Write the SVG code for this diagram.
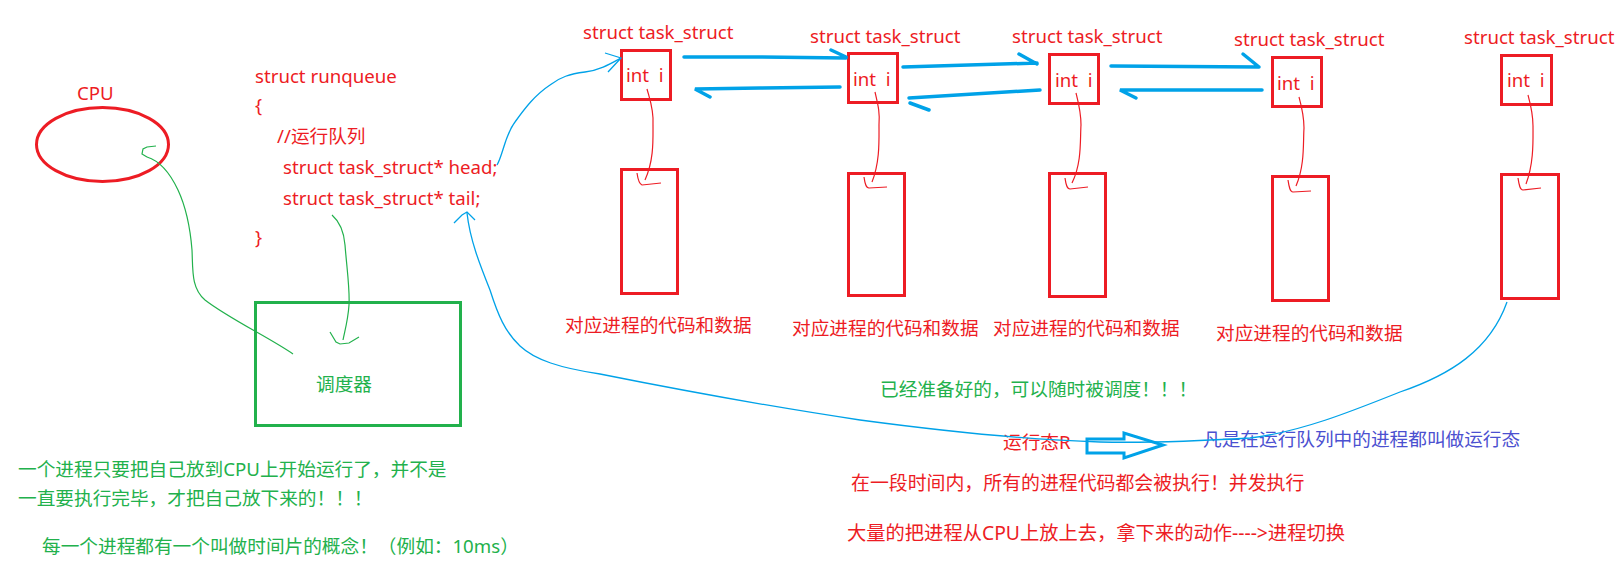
<svg xmlns="http://www.w3.org/2000/svg" width="1623" height="575" viewBox="0 0 1623 575">
  <style>
    text { font-family: "Noto Sans", "Noto Sans CJK SC", sans-serif; font-size: 18.67px; white-space: pre; }
    .red { fill: #ed1c24; }
    .green { fill: #22b14c; }
    .indigo { fill: #4b50d0; }
    .box { fill: none; stroke: #ed1c24; stroke-width: 3; }
    .gbox { fill: none; stroke: #22b14c; stroke-width: 3; }
    .thin-red { fill: none; stroke: #ed1c24; stroke-width: 1.2; }
    .thin-green { fill: none; stroke: #22b14c; stroke-width: 1.2; }
    .thin-blue { fill: none; stroke: #00a2e8; stroke-width: 1.3; }
    .thick-blue { fill: none; stroke: #00a2e8; stroke-width: 3.5; stroke-linecap: round; }
  </style>

  <!-- CPU -->
  <g id="cpu">
    <ellipse cx="102.5" cy="144.5" rx="66" ry="37" fill="none" stroke="#ed1c24" stroke-width="3"/>
    <text class="red" x="77" y="100">CPU</text>
  </g>

  <!-- run queue declaration -->
  <g id="runqueue">
    <text class="red" x="255" y="83">struct runqueue</text>
    <text class="red" x="255" y="112">{</text>
    <text class="red" x="277" y="143">//运行队列</text>
    <text class="red" x="283" y="174">struct task_struct* head;</text>
    <text class="red" x="283" y="205">struct task_struct* tail;</text>
    <text class="red" x="255" y="244">}</text>
  </g>

  <!-- scheduler -->
  <g id="scheduler">
    <rect class="gbox" x="255.5" y="302.5" width="205" height="123"/>
    <text class="green" x="316" y="391">调度器</text>
  </g>

  <!-- task_struct nodes -->
  <g id="task1">
    <text class="red" x="583" y="39">struct task_struct</text>
    <rect class="box" x="621.5" y="50.5" width="49" height="49"/>
    <text class="red" x="626" y="82" xml:space="preserve">int  i</text>
    <rect class="box" x="621.5" y="169.5" width="56" height="124"/>
    <text class="red" x="565" y="332">对应进程的代码和数据</text>
  </g>
  <g id="task2">
    <text class="red" x="810" y="43">struct task_struct</text>
    <rect class="box" x="848.5" y="53.5" width="49" height="49"/>
    <text class="red" x="853" y="86" xml:space="preserve">int  i</text>
    <rect class="box" x="848.5" y="173.5" width="56" height="122"/>
    <text class="red" x="792" y="335">对应进程的代码和数据</text>
  </g>
  <g id="task3">
    <text class="red" x="1012" y="43">struct task_struct</text>
    <rect class="box" x="1049.5" y="54.5" width="49" height="49"/>
    <text class="red" x="1055" y="87" xml:space="preserve">int  i</text>
    <rect class="box" x="1049.5" y="173.5" width="56" height="123"/>
    <text class="red" x="993" y="335">对应进程的代码和数据</text>
  </g>
  <g id="task4">
    <text class="red" x="1234" y="46">struct task_struct</text>
    <rect class="box" x="1272.5" y="57.5" width="49" height="49"/>
    <text class="red" x="1277" y="90" xml:space="preserve">int  i</text>
    <rect class="box" x="1272.5" y="176.5" width="56" height="124"/>
    <text class="red" x="1216" y="340">对应进程的代码和数据</text>
  </g>
  <g id="task5">
    <text class="red" x="1464" y="44">struct task_struct</text>
    <rect class="box" x="1501.5" y="55.5" width="50" height="49"/>
    <text class="red" x="1507" y="87" xml:space="preserve">int  i</text>
    <rect class="box" x="1501.5" y="174.5" width="57" height="124"/>
  </g>

  <!-- notes -->
  <g id="note-ready">
    <text class="green" x="880" y="396">已经准备好的，可以随时被调度！！！</text>
  </g>
  <g id="note-running">
    <text class="red" x="1003" y="449">运行态R</text>
    <polygon points="1087,439 1124,439 1124,433 1163,445 1124,458 1124,453 1087,453" fill="none" stroke="#00a2e8" stroke-width="3" stroke-linejoin="miter"/>
    <text class="indigo" x="1203" y="446">凡是在运行队列中的进程都叫做运行态</text>
  </g>
  <g id="note-concurrent">
    <text class="red" x="851" y="490" style="font-size:18.9px">在一段时间内，所有的进程代码都会被执行！并发执行</text>
    <text class="red" x="847" y="540" style="font-size:19.3px">大量的把进程从CPU上放上去，拿下来的动作----&gt;进程切换</text>
  </g>
  <g id="note-timeslice">
    <text class="green" x="18" y="476">一个进程只要把自己放到CPU上开始运行了，并不是</text>
    <text class="green" x="18" y="505">一直要执行完毕，才把自己放下来的！！！</text>
    <text class="green" x="42" y="553">每一个进程都有一个叫做时间片的概念！（例如：10ms）</text>
  </g>

  <!-- connectors -->
  <g id="connectors">
    <!-- scheduler to CPU -->
    <path class="thin-green" d="M293,354 C270,338 228,318 205,300 C191,288 193,270 192,250 C190,225 185,205 178,190 C170,173 160,161 147,157"/>
    <path class="thin-green" d="M147,157 L142,154 L143,149 L147,147 L156,146"/>
    <!-- runqueue to scheduler -->
    <path class="thin-green" d="M332,215 C340,222 344,232 345,245 C347,270 350,290 349,305 C348,320 345,330 343,340"/>
    <path class="thin-green" d="M330,332 L336,342 L340,344 L349,343 L359,337"/>

    <!-- head pointer -->
    <path class="thin-blue" d="M497,165 C503,155 505,135 515,122 C525,108 535,95 550,85 C560,77 570,74 585,72 C600,70 610,64 621,58"/>
    <path class="thin-blue" d="M605,53 L621,58 L608,72"/>
    <!-- tail pointer from last node -->
    <path class="thin-blue" d="M467,213 C470,240 480,265 490,290 C498,315 505,332 520,346 C535,360 560,368 600,374 C680,390 760,405 860,420 C950,432 1030,440 1100,442 C1150,443 1200,441 1250,438 C1300,432 1350,412 1400,392 C1450,375 1490,350 1507,302"/>
    <path class="thin-blue" d="M454,223 L462,215 L467,212 L475,220"/>

    <!-- next / prev links -->
    <path class="thick-blue" d="M684,57 L760,57 L846,58 M831,50 L846,57"/>
    <path class="thick-blue" d="M840,87 L760,88 L695,89 L710,97"/>
    <path class="thick-blue" d="M903,67 L1037,63 M1019,54 L1037,64"/>
    <path class="thick-blue" d="M1040,90 L909,98 M910,103 L929,110"/>
    <path class="thick-blue" d="M1111,66 L1259,67 M1243,54 L1259,67"/>
    <path class="thick-blue" d="M1262,90 L1120,90 L1136,98"/>

    <!-- int i to code and data -->
    <path class="thin-red" d="M647,89 C650,100 654,110 653,125 C653,140 654,160 645,180"/>
    <path class="thin-red" d="M637,173 C638,180 639,184 642,185 L661,183"/>
    <path class="thin-red" d="M875,92 C878,105 880,112 879,125 C879,140 880,162 872,182"/>
    <path class="thin-red" d="M864,177 C865,184 866,188 869,188 L887,187"/>
    <path class="thin-red" d="M1076,93 C1079,105 1081,112 1081,125 C1080,140 1082,163 1072,183"/>
    <path class="thin-red" d="M1065,178 C1066,185 1067,189 1070,189 L1088,187"/>
    <path class="thin-red" d="M1299,97 C1302,108 1304,115 1304,128 C1303,143 1305,165 1296,186"/>
    <path class="thin-red" d="M1288,180 C1289,187 1290,192 1293,192 L1311,191"/>
    <path class="thin-red" d="M1528,95 C1531,106 1533,113 1533,126 C1533,140 1534,163 1526,184"/>
    <path class="thin-red" d="M1518,178 C1519,185 1520,190 1523,190 L1541,188"/>
  </g>
</svg>
